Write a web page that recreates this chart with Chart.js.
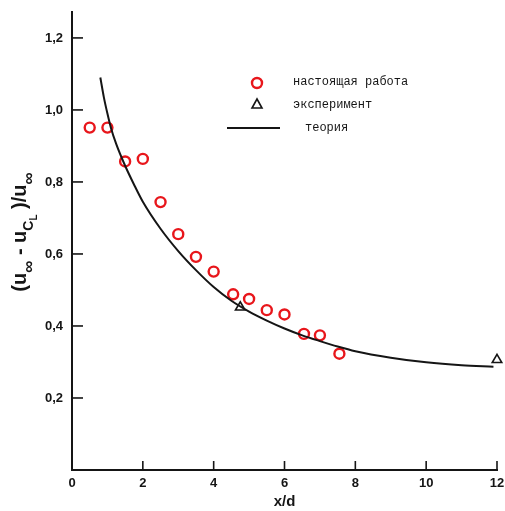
<!DOCTYPE html>
<html>
<head>
<meta charset="utf-8">
<script src="https://cdn.jsdelivr.net/npm/chart.js@4.4.1/dist/chart.umd.min.js"></script>
<style>
  html, body { margin: 0; padding: 0; background: #fff; }
  #wrap { width: 505px; height: 511px; position: relative; }
</style>
</head>
<body>
<div id="wrap"><canvas id="grafico"></canvas></div>
<script>
// настоящая работа (red circles)
var xRabota = [0.5, 1.0, 1.5, 2.0, 2.5, 3.0, 3.5, 4.0, 4.55, 5.0, 5.5, 6.0, 6.55, 7.0, 7.55]
var yRabota = [0.951, 0.951, 0.857, 0.864, 0.744, 0.655, 0.592, 0.551, 0.488, 0.475, 0.444, 0.432, 0.378, 0.374, 0.323]

// эксперимент (triangles)
var xEksp = [4.75, 12.0]
var yEksp = [0.452, 0.306]

// теория (solid curve)
var xTeoria = [0.8, 0.9, 1.0, 1.1, 1.25, 1.5, 1.75, 2.0, 2.5, 3.0, 3.5, 4.0, 4.5, 5.0, 5.5, 6.0, 6.5, 7.0, 7.5, 8.0, 9.0, 10.0, 11.0, 11.9]
var yTeoria = [1.09, 1.035, 0.99, 0.95, 0.905, 0.845, 0.793, 0.745, 0.67, 0.608, 0.555, 0.508, 0.47, 0.44, 0.415, 0.393, 0.374, 0.358, 0.343, 0.33, 0.312, 0.299, 0.291, 0.287]

var xTicks = [0, 2, 4, 6, 8, 10, 12]
var yTicks = [0.2, 0.4, 0.6, 0.8, 1.0, 1.2]

var legendaTextos = ['настоящая работа', 'эксперимент', 'теория']

function pares(xs, ys) {
  var out = []
  for (var i = 0; i < xs.length; i++) {
    out.push({ x: xs[i], y: ys[i] })
  }
  return out
}

var vermelho = '#e8161b'
var tinta = '#151515'

// inner ticks, legend and the y title with subscripts
const extras = {
  id: 'extras',
  afterDraw(chart) {
    var ctx = chart.ctx
    var sx = chart.scales.x
    var sy = chart.scales.y
    ctx.save()
    ctx.strokeStyle = tinta
    ctx.lineWidth = 1.6
    yTicks.forEach(function (v) {
      var p = sy.getPixelForValue(v)
      ctx.beginPath(); ctx.moveTo(sx.left, p); ctx.lineTo(sx.left + 11, p); ctx.stroke()
    })
    xTicks.forEach(function (v) {
      if (v === 0) return
      var p = sx.getPixelForValue(v)
      ctx.beginPath(); ctx.moveTo(p, sy.bottom); ctx.lineTo(p, sy.bottom - 9); ctx.stroke()
    })

    // legend
    var lx = 257
    ctx.lineWidth = 2.4
    ctx.strokeStyle = vermelho
    ctx.beginPath(); ctx.arc(lx, 83, 5, 0, Math.PI * 2); ctx.stroke()
    ctx.lineWidth = 1.6
    ctx.strokeStyle = tinta
    ctx.beginPath(); ctx.moveTo(lx - 5, 108); ctx.lineTo(lx + 5, 108); ctx.lineTo(lx, 99); ctx.closePath(); ctx.stroke()
    ctx.lineWidth = 2
    ctx.beginPath(); ctx.moveTo(227, 128); ctx.lineTo(280, 128); ctx.stroke()
    ctx.fillStyle = tinta
    ctx.font = '12px "Liberation Mono"'
    ctx.textBaseline = 'middle'
    ctx.textAlign = 'left'
    ctx.fillText(legendaTextos[0], 293, 82)
    ctx.fillText(legendaTextos[1], 293, 105)
    ctx.fillText(legendaTextos[2], 305, 128)

    // y axis title
    ctx.translate(20, 232)
    ctx.rotate(-Math.PI / 2)
    var partes = [['(u', 0], ['∞', 1], [' - u', 0], ['C', 2], ['L', 3], [' )/u', 0], ['∞', 1]]
    var fontes = ['bold 20px "Liberation Sans"', 'bold 17px "Liberation Sans"', 'bold 14px "Liberation Sans"', 'bold 10px "Liberation Sans"']
    var desloc = [0, 9, 9, 14]
    var total = 0
    partes.forEach(function (p) { ctx.font = fontes[p[1]]; total += ctx.measureText(p[0]).width })
    var cx = -total / 2
    ctx.textAlign = 'left'
    ctx.textBaseline = 'middle'
    partes.forEach(function (p) {
      ctx.font = fontes[p[1]]
      ctx.fillText(p[0], cx, desloc[p[1]])
      cx += ctx.measureText(p[0]).width
    })
    ctx.restore()
  }
}

new Chart(document.getElementById('grafico'), {
  type: 'scatter',
  data: {
    datasets: [
      {
        label: legendaTextos[2],
        data: pares(xTeoria, yTeoria),
        showLine: true,
        borderColor: tinta,
        borderWidth: 2,
        pointRadius: 0,
        cubicInterpolationMode: 'monotone',
        clip: false,
      },
      {
        label: legendaTextos[0],
        data: pares(xRabota, yRabota),
        pointStyle: 'circle',
        pointRadius: 5,
        borderWidth: 2.4,
        borderColor: vermelho,
        backgroundColor: 'rgba(255,255,255,0)',
        clip: false,
      },
      {
        label: legendaTextos[1],
        data: pares(xEksp, yEksp),
        pointStyle: 'triangle',
        pointRadius: 5.5,
        borderWidth: 1.6,
        borderColor: tinta,
        backgroundColor: '#fff',
        clip: false,
      }
    ]
  },
  options: {
    responsive: true,
    maintainAspectRatio: false,
    animation: false,
    layout: { padding: { left: 0, right: 8, top: 12, bottom: 0 } },
    plugins: { legend: { display: false }, tooltip: { enabled: false } },
    scales: {
      x: {
        min: 0,
        max: 12,
        afterFit: function (s) { s.height = 41; s.paddingLeft = 0; s.paddingRight = 0 },
        afterBuildTicks: function (s) { s.ticks = xTicks.map(function (v) { return { value: v } }) },
        grid: { display: false, drawTicks: false },
        border: { display: true, color: tinta, width: 2 },
        ticks: {
          padding: 6,
          color: tinta,
          font: { family: 'Liberation Sans', size: 13, weight: 'bold' },
          maxRotation: 0,
        },
        title: {
          display: true,
          text: 'x/d',
          color: tinta,
          padding: { top: 0, bottom: 0 },
          font: { family: 'Liberation Sans', size: 15, weight: 'bold' },
        }
      },
      y: {
        min: 0,
        max: 1.272,
        afterFit: function (s) { s.width = 72; s.paddingTop = 0; s.paddingBottom = 0 },
        afterBuildTicks: function (s) { s.ticks = yTicks.map(function (v) { return { value: v } }) },
        grid: { display: false, drawTicks: false },
        border: { display: true, color: tinta, width: 2 },
        ticks: {
          padding: 9,
          color: tinta,
          font: { family: 'Liberation Sans', size: 13, weight: 'bold' },
          callback: function (v) { return v.toFixed(1).replace('.', ',') },
        }
      }
    }
  },
  plugins: [extras]
});
</script>
</body>
</html>
